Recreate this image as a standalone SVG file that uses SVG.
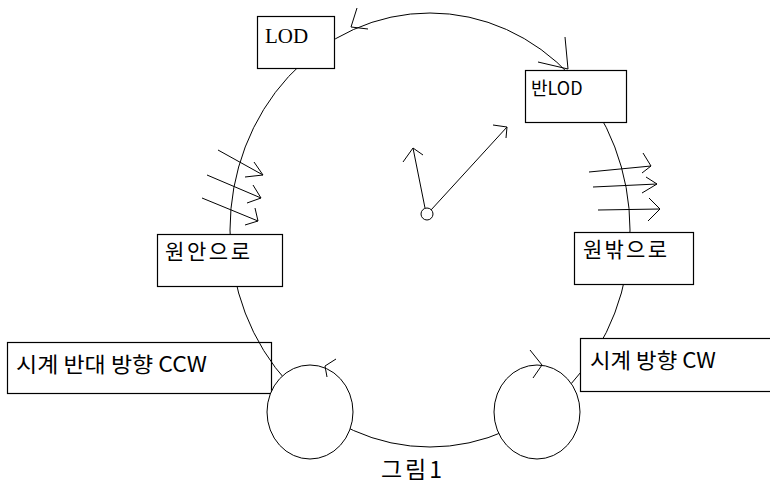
<svg xmlns="http://www.w3.org/2000/svg" width="770" height="484" viewBox="0 0 770 484">
<style>
.box{fill:#fff;stroke:#000;stroke-width:1.2}
.ln{fill:none;stroke:#000;stroke-width:1}
.kr{font-family:"Noto Sans CJK KR","DejaVu Sans",sans-serif;fill:#000}
.sf{font-family:"Liberation Serif",serif;fill:#000}
</style>
<rect width="770" height="484" fill="#fff"/>
<g id="ccw">
<rect class="box" x="7.5" y="342.5" width="264" height="51"/>
<text class="kr" x="16" y="372" font-size="21" textLength="191" lengthAdjust="spacingAndGlyphs">시계 반대 방향 CCW</text>
</g>
<g id="connectors">
<ellipse class="ln" cx="430" cy="230" rx="200" ry="217"/>
<line class="ln" x1="357" y1="8" x2="351" y2="27"/>
<line class="ln" x1="351" y1="27" x2="368" y2="29"/>
<line class="ln" x1="565" y1="37" x2="568" y2="69"/>
<line class="ln" x1="538" y1="62" x2="568" y2="69"/>
<line class="ln" x1="425" y1="208" x2="413" y2="148"/>
<polyline class="ln" points="403,162 413,148 423,155"/>
<line class="ln" x1="431" y1="210" x2="507" y2="127"/>
<polyline class="ln" points="493,125 507,127 506,138"/>
<line class="ln" x1="218" y1="150" x2="263" y2="175"/>
<polyline class="ln" points="254,162 263,175 245,177"/>
<line class="ln" x1="207" y1="175" x2="261" y2="198"/>
<polyline class="ln" points="253,185 261,198 247,203"/>
<line class="ln" x1="202" y1="198" x2="258" y2="221"/>
<polyline class="ln" points="255,208 258,221 245,225"/>
<line class="ln" x1="589" y1="172" x2="651" y2="166"/>
<polyline class="ln" points="643,153 651,166 642,173"/>
<line class="ln" x1="593" y1="187" x2="657" y2="184"/>
<polyline class="ln" points="646,177 657,184 642,193"/>
<line class="ln" x1="598" y1="210" x2="660" y2="209"/>
<polyline class="ln" points="649,198 660,209 648,221"/>
<circle class="ln" cx="427" cy="214" r="6" style="fill:#fff"/>
</g>
<g id="lod">
<rect class="box" x="257.5" y="16.5" width="77" height="52"/>
<text class="sf" x="265" y="43" font-size="21">LOD</text>
</g>
<g id="banlod">
<rect class="box" x="525.5" y="70.5" width="101" height="52"/>
<text class="kr" x="531" y="95" font-size="18">반LOD</text>
</g>
<g id="inward">
<rect class="box" x="157.5" y="234.5" width="125" height="52"/>
<text class="kr" x="165" y="259" font-size="21" textLength="85" lengthAdjust="spacing">원안으로</text>
</g>
<g id="outward">
<rect class="box" x="574.5" y="232.5" width="119" height="52"/>
<text class="kr" x="583" y="257" font-size="21" textLength="84" lengthAdjust="spacing">원밖으로</text>
</g>
<g id="cw">
<rect class="box" x="580.5" y="338.5" width="195" height="53"/>
<text class="kr" x="590" y="368" font-size="21" textLength="126" lengthAdjust="spacingAndGlyphs">시계 방향 CW</text>
</g>
<g id="ccw-loop">
<ellipse class="box" cx="310" cy="412" rx="43" ry="47" style="stroke-width:1"/>
<polyline class="ln" points="336,359 325,366 327,377"/>
</g>
<g id="cw-loop">
<ellipse class="box" cx="537" cy="412" rx="43" ry="47" style="stroke-width:1"/>
<polyline class="ln" points="530,350 542,365 533,378"/>
</g>
<g id="caption">
<text class="kr" x="381" y="478" font-size="23" textLength="61" lengthAdjust="spacing">그림1</text>
</g>
</svg>
